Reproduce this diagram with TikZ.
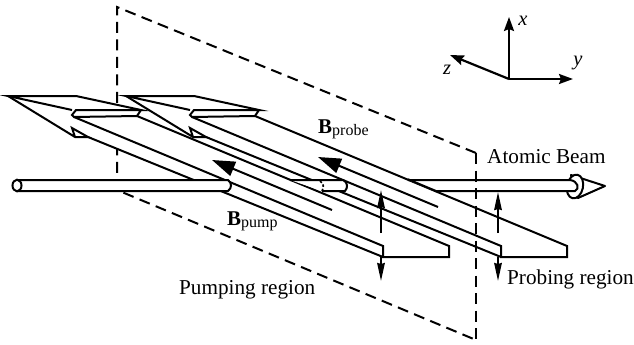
\documentclass[tikz,border=0pt]{standalone}
\usepackage{fontspec}
\setmainfont{Liberation Serif}
\usetikzlibrary{arrows.meta}
\tikzset{
  x=1pt,y=-1pt,
  ln/.style={line width=2pt,line join=miter,line cap=butt},
  plane/.style={line width=2pt,dash pattern=on 11pt off 6.5pt},
  bigarrow/.style={line width=2pt,-{Triangle[length=23pt,width=15pt]}},
  fieldarrow/.style={line width=2pt,-{Stealth[length=18pt,width=7.5pt,inset=1pt]}},
  axis/.style={line width=2.2pt,-{Stealth[length=14pt,width=10pt,inset=2pt]}},
  lbl/.style={font=\fontsize{21.2}{23}\selectfont,inner sep=0pt,anchor=base west},
  axlbl/.style={font=\fontsize{20.5}{22}\selectfont\itshape,inner sep=0pt},
  magnet/.pic={
    \fill[white] (8,96)--(76,96)--(141,110)--(137,116)--(449,246)--(449,257)--(383,257)--(88,137)--(75,137)--cycle;
    \draw[ln] (72,110)--(8,96)--(76,96)--(141,110)--(76,110)--(72,115)--(74,117)--(137,116)--(141,110);
    \draw[ln] (8,96)--(75,137)--(88,137)--(72,128)--(75,137);
    \draw[ln] (74,117)--(383,246)--(383,257)--(449,257)--(449,246)--(137,116);
    \draw[ln] (88,137)--(383,257);
  }
}
\newcommand{\subB}[1]{{\fontsize{21}{23}\selectfont\bfseries B}\raisebox{-2.5pt}{\fontsize{16}{17}\selectfont #1}}
\begin{document}
\begin{tikzpicture}
\useasboundingbox (0,0) rectangle (634,345);
\fill[white] (0,0) rectangle (634,345);
% dashed plane
\coordinate (pa) at (117,7);
\coordinate (pb) at (476,153);
\coordinate (pc) at (476,340);
\coordinate (pd) at (117,190);
\draw[plane] (pb)--(pa)--(pd)--(pc);
% magnets
\pic at (0,0) {magnet};
% tube, first part
\fill[white] (17,180)--(228,180) .. controls (232,183) and (232,188) .. (228,191)--(17,191)--cycle;
\draw[ln] (17,180)--(228,180) .. controls (232,183) and (232,188) .. (228,191)--(17,191);
\draw[ln,fill=white] (17,185.5) ellipse [x radius=4.5,y radius=5.8];
\pic at (118,0) {magnet};
% tube, second part
\fill[white] (290,180)--(343,180) .. controls (348,182) and (348,188) .. (345,191)--(322,191)--cycle;
\draw[ln] (290,180)--(343,180) .. controls (348,182) and (348,188) .. (345,191)--(322,191);
\draw[line width=1.6pt,dash pattern=on 2.5pt off 2pt] (320,181) .. controls (324,184) and (324,187) .. (322,191);
% beam tip
\draw[ln,fill=white,line join=round] (571,175)--(605,186)--(578,198)--cycle;
\draw[ln,fill=white] (575,186.5) ellipse [x radius=8,y radius=12,rotate=-12];
% tube, third part
\fill[white] (408,180)--(570,180) .. controls (578,181) and (580,189) .. (575,191)--(435,191)--cycle;
\draw[ln] (408,180)--(570,180) .. controls (578,181) and (580,189) .. (575,191)--(435,191);
\draw[ln] (408,179.3)--(436,191);
% field arrows
\coordinate (pumpS) at (332,210);
\coordinate (pumpE) at (212,160);
\coordinate (probeS) at (438,207);
\coordinate (probeE) at (318,157);
\draw[bigarrow] (pumpS)--(pumpE);
\draw[bigarrow] (probeS)--(probeE);
\coordinate (u1a) at (381,233);
\coordinate (u1b) at (381,190);
\coordinate (d1a) at (381,257);
\coordinate (d1b) at (381,281);
\coordinate (u2a) at (498,233);
\coordinate (u2b) at (498,192);
\coordinate (d2a) at (498,257);
\coordinate (d2b) at (498,281);
\draw[fieldarrow] (u1a)--(u1b);
\draw[fieldarrow] (d1a)--(d1b);
\draw[fieldarrow] (u2a)--(u2b);
\draw[fieldarrow] (d2a)--(d2b);
% plane edge in front
\draw[plane] (pb)--(pc);
% axes
\coordinate (o) at (509,79);
\coordinate (ax) at (509,17);
\coordinate (ay) at (573,79);
\coordinate (az) at (450,55);
\draw[axis] (o)--(ax);
\draw[axis] (o)--(ay);
\draw[axis] (o)--(az);
\node[axlbl] (lx) at (523,21) {x};
\node[axlbl] (ly) at (578,63) {y};
\node[axlbl] (lz) at (447,70) {z};
% labels
\node[lbl] (atomic) at (487,163) {Atomic Beam};
\node[lbl] (probing) at (507,284) {Probing region};
\node[lbl] (pumping) at (179,294) {Pumping region};
\node[lbl] (bprobe) at (318,133) {\subB{probe}};
\node[lbl] (bpump) at (227,225) {\subB{pump}};
\end{tikzpicture}
\end{document}
